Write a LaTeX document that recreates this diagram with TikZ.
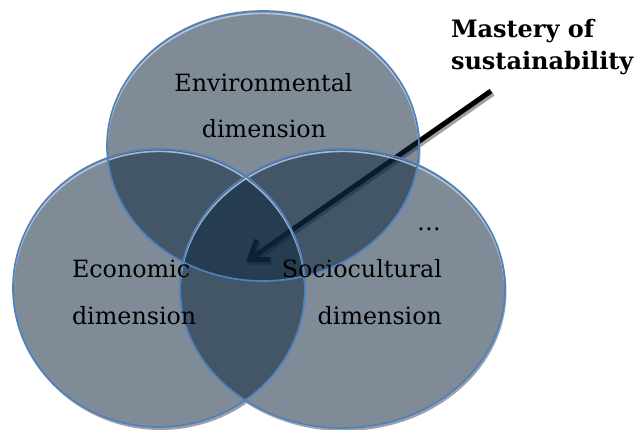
\documentclass[tikz,border=0pt]{standalone}
\usepackage{fontspec}
\setmainfont{DejaVu Serif}
\usetikzlibrary{arrows.meta}

\definecolor{vennfill}{RGB}{14,38,62}
\definecolor{vennline}{RGB}{79,129,189}
\definecolor{vennglow}{RGB}{196,208,224}
\definecolor{vennshade}{RGB}{160,160,160}

\begin{document}
\begin{tikzpicture}[x=1pt,y=-1pt,
  dimtext/.style={inner sep=0pt, outer sep=0pt, text=black,
    font=\fontsize{23.8}{28}\selectfont},
  headtext/.style={inner sep=0pt, outer sep=0pt, text=black,
    font=\fontsize{24}{28}\selectfont\bfseries},
  disc/.style={fill=vennfill, fill opacity=0.53},
  rim/.style={draw=vennline, line width=1.7pt},
  pointer/.style={line width=5pt, -{Straight Barb[length=17pt,width=24pt]}}]

  % page frame and white background
  \useasboundingbox (0,0) rectangle (638,430);
  \fill[white] (0,0) rectangle (638,430);

  % the three dimensions: centre x / centre y / x radius / y radius
  \def\venn{263/146/156/135, 159/288/146/139, 342.5/288.5/162.5/139.5}

  % soft drop shadows below the discs
  \foreach \cx/\cy/\rx/\ry in \venn
    \fill[vennshade] (\cx+1.5,\cy+3) ellipse [x radius=\rx pt, y radius=\ry pt];
  \foreach \cx/\cy/\rx/\ry in \venn
    \fill[white] (\cx,\cy) ellipse [x radius=\rx pt, y radius=\ry pt];

  % arrow towards the common core, lying under the discs
  \coordinate (tail) at (491,91);
  \coordinate (tip) at (246,262);
  \coordinate (tailS) at (493,93.5);
  \coordinate (tipS) at (248,264.5);
  \draw[pointer, draw=vennshade] (tailS) -- (tipS);
  \draw[pointer, draw=black] (tail) -- (tip);

  % translucent discs
  \foreach \cx/\cy/\rx/\ry in \venn
    \fill[disc] (\cx,\cy) ellipse [x radius=\rx pt, y radius=\ry pt];

  % light bevel just inside the upper rims
  \foreach \cx/\cy/\rx/\ry in \venn {
    \begin{scope}
      \clip (\cx,\cy) ellipse [x radius=\rx pt, y radius=\ry pt];
      \draw[vennglow, line width=1.6pt, opacity=0.8]
        (\cx,\cy+2.4) ellipse [x radius=\rx pt, y radius=\ry pt];
    \end{scope}
  }

  % rims
  \foreach \cx/\cy/\rx/\ry in \venn
    \draw[rim] (\cx,\cy) ellipse [x radius=\rx pt, y radius=\ry pt];

  % labels
  \node[dimtext, anchor=base] (envA) at (263.5,92) {Environmental};
  \node[dimtext, anchor=base] (envB) at (264,138) {dimension};
  \node[dimtext, anchor=base west] (ecoA) at (72,278) {Economic};
  \node[dimtext, anchor=base west] (ecoB) at (72,325) {dimension};
  \node[dimtext, anchor=base east] (socA) at (442,278) {Sociocultural};
  \node[dimtext, anchor=base east] (socB) at (442,325) {dimension};
  \node[dimtext, anchor=base east] (more) at (441,231) {…};
  \node[headtext, anchor=base west] (mastA) at (451,38) {Mastery of};
  \node[headtext, anchor=base west] (mastB) at (451,70) {sustainability};
\end{tikzpicture}
\end{document}
